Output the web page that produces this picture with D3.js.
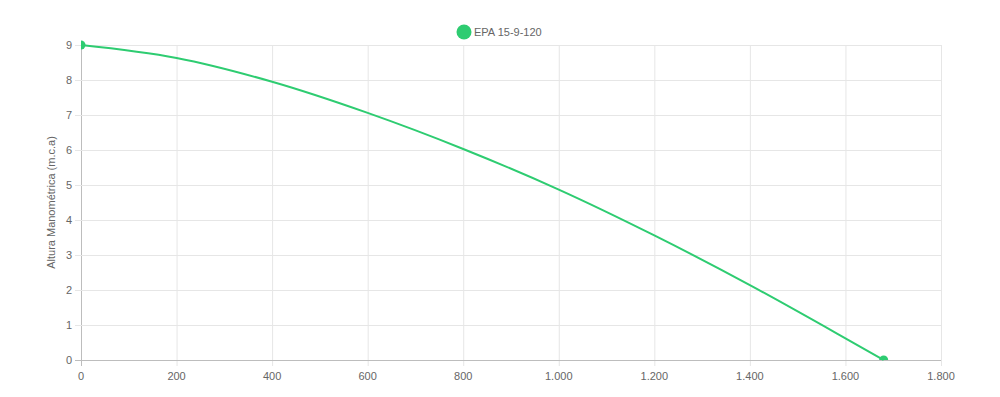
<!DOCTYPE html>
<html>
<head>
<meta charset="utf-8">
<title>EPA 15-9-120</title>
<script src="https://cdn.jsdelivr.net/npm/d3@7"></script>
<style>
  body { margin: 0; background: #fff; }
  text { font-family: "Helvetica Neue", Helvetica, Arial, "Liberation Sans", sans-serif; fill: #666; }
</style>
</head>
<body>
<div id="chart"></div>
<script>
// vazão (x) e altura (y)
var flow = [0, 200, 400, 600, 800, 1000, 1200, 1400, 1600, 1680];
var head = [9, 8.63, 7.95, 7.06, 6.03, 4.87, 3.56, 2.14, 0.62, 0];
var xTicks = [0, 200, 400, 600, 800, 1000, 1200, 1400, 1600, 1800];
var yTicks = [0, 1, 2, 3, 4, 5, 6, 7, 8, 9];
var seriesName = "EPA 15-9-120";
var yTitle = "Altura Manométrica (m.c.a)";
var green = "#2ecc71";

var W = 1000, H = 397;
var pLeft = 81, pRight = 941, pTop = 45, pBottom = 360;

var fmt = d3.formatLocale({decimal: ",", thousands: ".", grouping: [3], currency: ["R$", ""]}).format(",d");

var x = d3.scaleLinear().domain([0, 1800]).range([pLeft, pRight]);
var y = d3.scaleLinear().domain([0, 9]).range([pBottom, pTop]);

var svg = d3.select("#chart").append("svg")
    .attr("width", W).attr("height", H);

// pontos cortados só na esquerda e embaixo, como no original
svg.append("defs").append("clipPath").attr("id", "area")
  .append("rect").attr("x", pLeft).attr("y", pTop - 10)
  .attr("width", pRight - pLeft + 10).attr("height", pBottom - pTop + 10);

// grade vertical + ticks do eixo x
var xg = svg.append("g").selectAll("g").data(xTicks).enter().append("g");
xg.append("line")
    .attr("x1", d => x(d) + 0.5).attr("x2", d => x(d) + 0.5)
    .attr("y1", pTop).attr("y2", pBottom + 6)
    .attr("stroke", d => d === 0 ? "#bdbdbd" : "#e6e6e6");
xg.append("text")
    .attr("x", d => x(d)).attr("y", pBottom + 20)
    .attr("text-anchor", "middle").attr("font-size", 11)
    .text(d => fmt(d));

// grade horizontal + ticks do eixo y
var yg = svg.append("g").selectAll("g").data(yTicks).enter().append("g");
yg.append("line")
    .attr("x1", pLeft - 6).attr("x2", pRight)
    .attr("y1", d => y(d) + 0.5).attr("y2", d => y(d) + 0.5)
    .attr("stroke", d => d === 0 ? "#bdbdbd" : "#e6e6e6");
yg.append("text")
    .attr("x", pLeft - 9).attr("y", d => y(d) + 4)
    .attr("text-anchor", "end").attr("font-size", 11)
    .text(d => d);

svg.append("text")
    .attr("transform", "translate(55," + ((pTop + pBottom) / 2) + ") rotate(-90)")
    .attr("text-anchor", "middle").attr("font-size", 11)
    .text(yTitle);

var pts = flow.map((d, i) => [d, head[i]]);

var line = d3.line()
    .x(d => x(d[0])).y(d => y(d[1]))
    .curve(d3.curveMonotoneX);

svg.append("path").datum(pts)
    .attr("fill", "none").attr("stroke", green)
    .attr("stroke-width", 2)
    .attr("d", line);

svg.append("g").attr("clip-path", "url(#area)")
  .selectAll("circle").data([pts[0], pts[pts.length - 1]]).enter()
  .append("circle")
    .attr("cx", d => x(d[0])).attr("cy", d => y(d[1]))
    .attr("r", 4.5).attr("fill", green);

// legenda
var lg = svg.append("g");
lg.append("circle").attr("cx", 464).attr("cy", 32).attr("r", 7.5).attr("fill", green);
lg.append("text").attr("x", 474).attr("y", 36).attr("font-size", 11).text(seriesName);
</script>
</body>
</html>
